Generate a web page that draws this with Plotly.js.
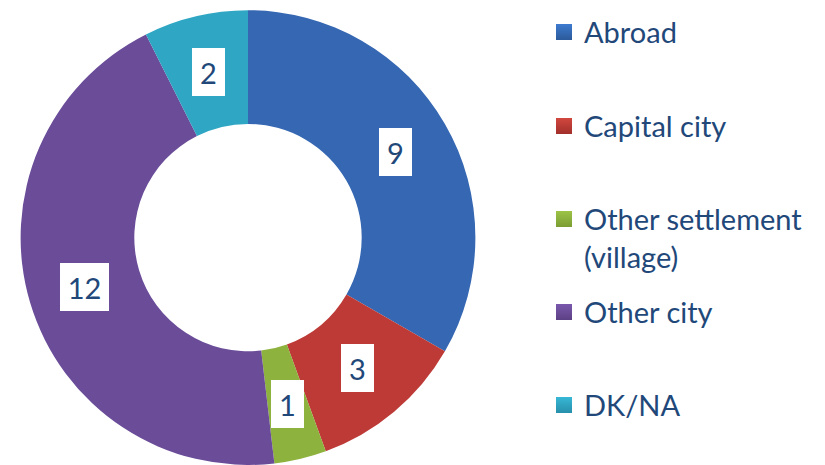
<!DOCTYPE html>
<html>
<head>
<meta charset="utf-8">
<script src="https://cdn.plot.ly/plotly-3.0.1.min.js"></script>
<style>html,body{margin:0;padding:0;background:#fff;}#chart{width:825px;height:465px;}</style>
</head>
<body>
<div id="chart"></div>
<script>
// ---- data ----
const categories = ['Abroad', 'Capital city', 'Other settlement (village)', 'Other city', 'DK/NA'];
const legendLabels = ['Abroad', 'Capital city', 'Other settlement<br>(village)', 'Other city', 'DK/NA'];
const values = [9, 3, 1, 12, 2];

// ---- styles ----
const sliceColors = ['#3567b2', '#bd3a36', '#8db23e', '#6a4c99', '#2fa6c4'];
const gradTop = ['#3d7bd0', '#d1473f', '#9dc347', '#7a58ad', '#37b8d6'];
const gradBottom = ['#2c5a99', '#a22f2b', '#7b9d33', '#5c4084', '#278fab'];
const textColor = '#22487a';
const fontFamily = 'Lato, Carlito, Calibri, "Open Sans", sans-serif';
const legendFontSize = 29;

const W = 825, H = 465;
const domX = [20 / W, 476 / W];
const domY = [0, 0.978];
const hole = 0.5;

// legend marker centres (pixels from top)
const legendMarkerY = [32, 126, 219, 312, 405];
const legendMarkerX = 564;

const traces = [{
  type: 'pie',
  labels: categories,
  values: values,
  sort: false,
  direction: 'clockwise',
  rotation: 0,
  hole: hole,
  textinfo: 'none',
  hoverinfo: 'label+value',
  showlegend: false,
  marker: {colors: sliceColors, line: {width: 0}},
  domain: {x: domX, y: domY}
}];

const layout = {
  width: W, height: H,
  margin: {l: 0, r: 0, t: 0, b: 0},
  paper_bgcolor: '#ffffff',
  plot_bgcolor: '#ffffff',
  xaxis: {visible: false, range: [0, 1]},
  yaxis: {visible: false, range: [0, 1]},
  annotations: [],
  font: {family: fontFamily, color: textColor}
};

const itemOffset = 5 + (legendFontSize * 1.3 + 3) / 2;
categories.forEach((c, i) => {
  const key = i === 0 ? 'legend' : 'legend' + (i + 1);
  traces.push({
    type: 'scatter', mode: 'markers',
    x: [null], y: [null],
    name: legendLabels[i],
    legend: key,
    showlegend: true,
    hoverinfo: 'skip',
    marker: {symbol: 'square', size: 16, color: gradTop[i],
             gradient: {type: 'vertical', color: gradBottom[i]}, line: {width: 0}}
  });
  layout[key] = {
    x: (legendMarkerX - 20) / W,
    xanchor: 'left',
    y: 1 - (legendMarkerY[i] - itemOffset) / H,
    yanchor: 'top',
    valign: 'top',
    bgcolor: 'rgba(0,0,0,0)',
    borderwidth: 0,
    font: {family: fontFamily, size: legendFontSize, color: textColor},
    itemclick: false, itemdoubleclick: false
  };
});

// value labels: centred in the ring at each slice's mid-angle
const total = values.reduce((a, b) => a + b, 0);
const pxW = (domX[1] - domX[0]) * W, pxH = (domY[1] - domY[0]) * H;
const R = Math.min(pxW, pxH) / 2;
const cx = (domX[0] + domX[1]) / 2 * W;
const cy = H - (domY[0] + domY[1]) / 2 * H;
const rMid = R * (1 + hole) / 2;
let cum = 0;
values.forEach((v, i) => {
  const a = (cum + v / 2) / total * 2 * Math.PI;
  cum += v;
  const px = cx + rMid * Math.sin(a);
  const py = cy - rMid * Math.cos(a);
  const label = String(v);
  layout.annotations.push({
    xref: 'paper', yref: 'paper',
    x: px / W, y: 1 - py / H,
    xanchor: 'center', yanchor: 'middle',
    text: label, showarrow: false,
    bgcolor: '#ffffff', borderwidth: 0, borderpad: 0,
    width: 16 * label.length + 17, height: 48,
    font: {family: fontFamily, size: 29, color: textColor}
  });
});

Plotly.newPlot('chart', traces, layout, {staticPlot: true, displayModeBar: false});
</script>
</body>
</html>
